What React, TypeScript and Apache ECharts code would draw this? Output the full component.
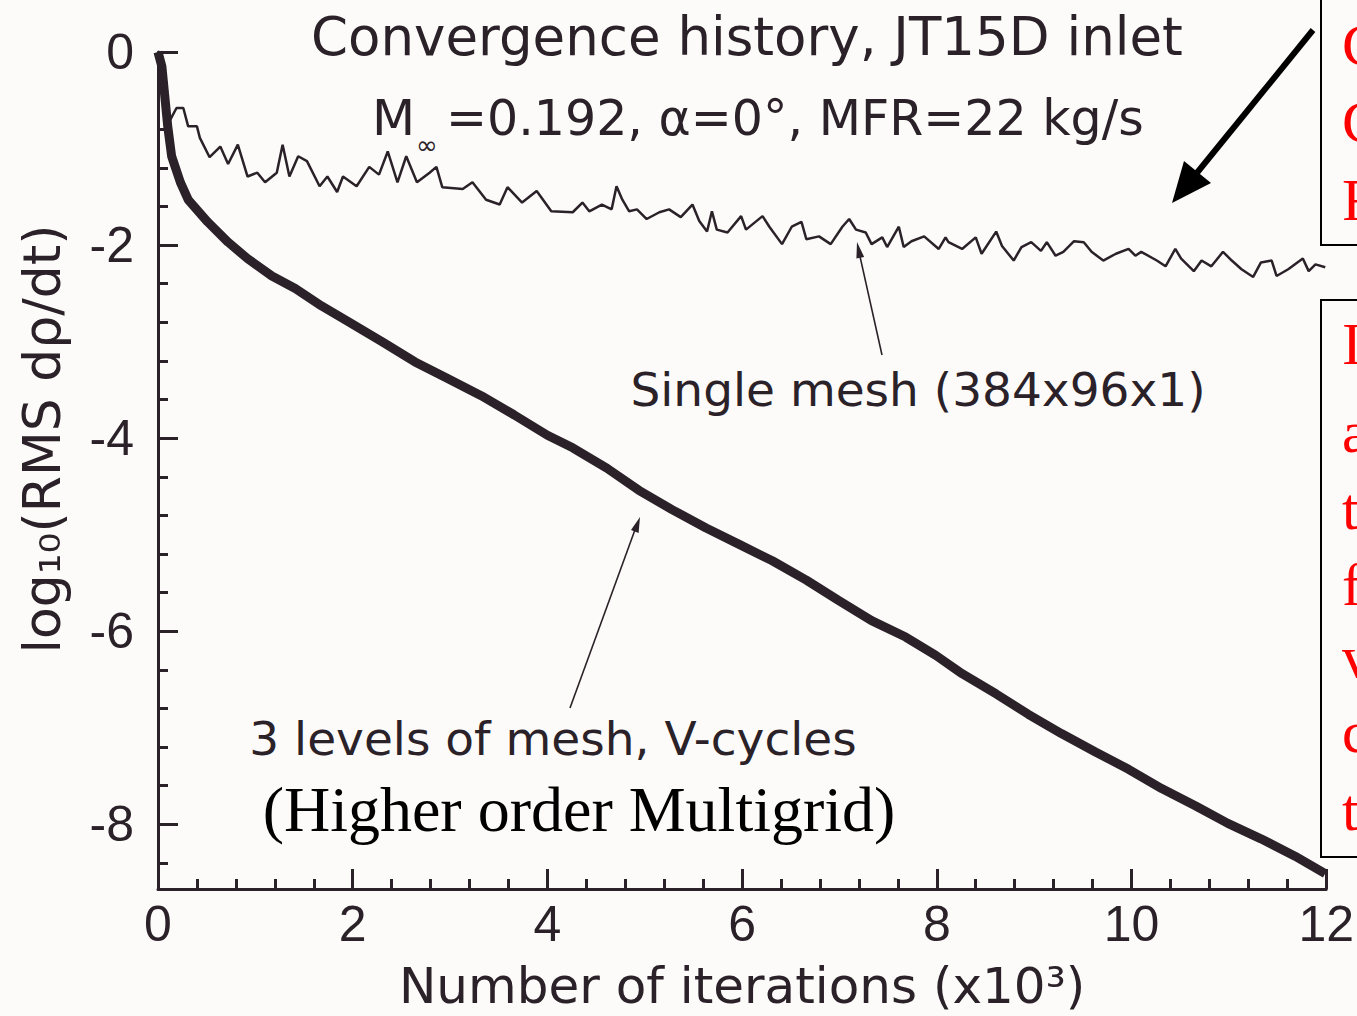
import React, { useEffect, useRef } from "react";
import * as echarts from "echarts";

// Single mesh (384x96x1) convergence history: x in thousands of iterations, y = log10(RMS dρ/dt)
const singleX = [
  0, 0.05, 0.09, 0.19, 0.26, 0.31, 0.4, 0.43, 0.53, 0.64, 0.72, 0.82, 0.92, 1.02, 1.1, 1.22, 1.28, 1.35,
  1.44, 1.53, 1.66, 1.74, 1.84, 1.9, 2.04, 2.17, 2.27, 2.36, 2.46, 2.55, 2.66, 2.79, 2.86, 2.92, 3.13,
  3.23, 3.37, 3.51, 3.59, 3.74, 3.89, 4.04, 4.26, 4.36, 4.43, 4.56, 4.66, 4.71, 4.77, 4.84, 4.92, 5.02,
  5.15, 5.25, 5.37, 5.49, 5.56, 5.64, 5.69, 5.74, 5.85, 5.99, 6.04, 6.21, 6.28, 6.41, 6.51, 6.61, 6.66,
  6.79, 6.91, 7.03, 7.1, 7.17, 7.27, 7.33, 7.44, 7.49, 7.61, 7.66, 7.74, 7.87, 8.02, 8.09, 8.12, 8.26,
  8.4, 8.46, 8.61, 8.67, 8.79, 8.87, 8.97, 9.07, 9.13, 9.22, 9.3, 9.41, 9.51, 9.59, 9.71, 9.84, 9.97,
  10.04, 10.1, 10.26, 10.35, 10.45, 10.51, 10.64, 10.72, 10.82, 10.94, 11.03, 11.13, 11.25, 11.33,
  11.44, 11.49, 11.61, 11.76, 11.82, 11.89, 11.99,
];
const singleY = [
  0, -0.39, -0.77, -0.58, -0.58, -0.77, -0.77, -0.89, -1.09, -0.98, -1.16, -0.96, -1.29, -1.25, -1.35,
  -1.25, -0.96, -1.29, -1.08, -1.13, -1.39, -1.29, -1.45, -1.29, -1.39, -1.19, -1.27, -1.03, -1.35,
  -1.08, -1.35, -1.25, -1.19, -1.4, -1.42, -1.35, -1.53, -1.58, -1.4, -1.56, -1.44, -1.65, -1.66, -1.56,
  -1.65, -1.58, -1.63, -1.39, -1.53, -1.65, -1.63, -1.73, -1.66, -1.63, -1.71, -1.58, -1.75, -1.86,
  -1.65, -1.84, -1.87, -1.7, -1.84, -1.7, -1.81, -1.99, -1.81, -1.76, -1.94, -1.91, -1.99, -1.81, -1.73,
  -1.84, -1.87, -1.99, -1.92, -2.02, -1.81, -2.02, -1.96, -1.91, -2.04, -1.92, -1.97, -2.04, -1.92,
  -2.09, -1.86, -2.01, -2.16, -2.02, -1.97, -2.06, -1.97, -2.11, -2.07, -1.96, -1.97, -2.07, -2.16,
  -2.09, -2.04, -2.11, -2.07, -2.16, -2.22, -2.04, -2.14, -2.27, -2.16, -2.22, -2.07, -2.16, -2.25,
  -2.33, -2.18, -2.16, -2.32, -2.25, -2.14, -2.27, -2.2, -2.23,
];

// 3 levels of mesh, V-cycles (higher order multigrid)
const multiX = [
  0, 0.04, 0.1, 0.14, 0.23, 0.31, 0.51, 0.72, 0.92, 1.17, 1.41, 1.68, 1.95, 2.3, 2.64, 2.97, 3.32, 3.66,
  4.0, 4.26, 4.61, 4.94, 5.28, 5.63, 5.97, 6.31, 6.66, 6.99, 7.33, 7.68, 7.99, 8.26, 8.61, 8.94, 9.28,
  9.63, 9.97, 10.31, 10.66, 10.99, 11.33, 11.68, 11.99,
];
const multiY = [
  0, -0.15, -0.77, -1.08, -1.35, -1.53, -1.76, -1.97, -2.14, -2.32, -2.45, -2.63, -2.79, -3.0, -3.21,
  -3.38, -3.56, -3.76, -3.97, -4.1, -4.31, -4.54, -4.74, -4.93, -5.1, -5.27, -5.47, -5.68, -5.89, -6.06,
  -6.25, -6.44, -6.65, -6.86, -7.06, -7.25, -7.43, -7.63, -7.81, -7.99, -8.15, -8.33, -8.51,
];

const yMajorTicks = [-8, -6, -4, -2, 0];
const yMinorStep = 0.4;
const yMin = -8.67;
const xMax = 12;
const xStep = 2;

const titleLine1 = "Convergence history, JT15D inlet";
const titleM = "M";
const titleSub = "∞";
const titleRest = "=0.192, α=0°, MFR=22 kg/s";
const yName = "log₁₀(RMS dρ/dt)";
const xName = "Number of iterations (x10³)";
const singleLabel = "Single mesh (384x96x1)";
const multiLabel = "3 levels of mesh, V-cycles";
const multiNote = "(Higher order Multigrid)";
const redBox1 = ["C", "C", "F"];
const redBox2 = ["I", "a", "t", "f", "v", "c", "t"];

const INK = "#2b2229";
const SANS = '"DejaVu Sans", sans-serif';
const TICKFONT = '"Liberation Sans", Arial, sans-serif';
const SERIF = '"Liberation Serif", "Times New Roman", serif';

export default function App() {
  const ref = useRef<HTMLDivElement>(null);

  useEffect(() => {
    if (!ref.current) return;
    const chart = echarts.init(ref.current, null, { renderer: "svg" });

    const minorTicks: number[] = [];
    for (let k = 0; k * yMinorStep <= -yMin; k++) {
      minorTicks.push(Math.round(-k * yMinorStep * 100) / 100);
    }

    const singleData = singleX.map((x, i) => [x, singleY[i]]);
    const multiData = multiX.map((x, i) => [x, multiY[i]]);

    const redBase1 = [63, 140, 218];
    const redBase2 = [362, 450, 527, 603, 675, 750, 828];

    const graphic: any[] = [
      {
        type: "text",
        x: 747,
        y: 36,
        style: { text: titleLine1, fill: INK, fontSize: 53, fontFamily: SANS, textAlign: "center", textVerticalAlign: "middle" },
      },
      {
        type: "text",
        x: 372,
        y: 118,
        style: { text: titleM, fill: INK, fontSize: 50, fontFamily: SANS, textAlign: "left", textVerticalAlign: "middle" },
      },
      {
        type: "text",
        x: 416,
        y: 145,
        style: { text: titleSub, fill: INK, fontSize: 26, fontFamily: SANS, textAlign: "left", textVerticalAlign: "middle" },
      },
      {
        type: "text",
        x: 446,
        y: 118,
        style: { text: titleRest, fill: INK, fontSize: 49, fontFamily: SANS, textAlign: "left", textVerticalAlign: "middle" },
      },
      {
        type: "text",
        x: 42,
        y: 439,
        rotation: Math.PI / 2,
        style: { text: yName, fill: INK, fontSize: 52, fontFamily: SANS, textAlign: "center", textVerticalAlign: "middle" },
      },
      {
        type: "text",
        x: 918,
        y: 389,
        style: { text: singleLabel, fill: INK, fontSize: 47, fontFamily: SANS, textAlign: "center", textVerticalAlign: "middle" },
      },
      {
        type: "text",
        x: 553,
        y: 738,
        style: { text: multiLabel, fill: INK, fontSize: 47, fontFamily: SANS, textAlign: "center", textVerticalAlign: "middle" },
      },
      {
        type: "text",
        x: 579,
        y: 809,
        style: { text: multiNote, fill: "#000", fontSize: 64, fontFamily: SERIF, textAlign: "center", textVerticalAlign: "middle" },
      },
      // pointer: single mesh
      { type: "line", shape: { x1: 882, y1: 355, x2: 859, y2: 252 }, style: { stroke: INK, lineWidth: 1.6 } },
      { type: "polygon", shape: { points: [[857, 242], [864.2, 257], [856.4, 258.5]] }, style: { fill: INK } },
      // pointer: multigrid
      { type: "line", shape: { x1: 570, y1: 708, x2: 636, y2: 527 }, style: { stroke: INK, lineWidth: 1.6 } },
      { type: "polygon", shape: { points: [[640, 517], [638.6, 533], [631, 530]] }, style: { fill: INK } },
      // big black arrow
      { type: "line", shape: { x1: 1313, y1: 30, x2: 1196, y2: 174 }, style: { stroke: "#000", lineWidth: 6 } },
      { type: "polygon", shape: { points: [[1172, 203], [1211, 183], [1184, 161]] }, style: { fill: "#000" } },
      // red note boxes (cut off at the right edge, as in the reference)
      { type: "rect", shape: { x: 1321, y: -4, width: 60, height: 249 }, style: { fill: "rgba(0,0,0,0)", stroke: "#000", lineWidth: 2 } },
      { type: "rect", shape: { x: 1321, y: 300, width: 60, height: 557 }, style: { fill: "rgba(0,0,0,0)", stroke: "#000", lineWidth: 2 } },
      ...redBox1.map((t, i) => ({
        type: "text",
        x: 1342,
        y: redBase1[i] - 18,
        style: { text: t, fill: "#ff0000", fontSize: 60, fontFamily: SERIF, textAlign: "left", textVerticalAlign: "middle" },
      })),
      ...redBox2.map((t, i) => ({
        type: "text",
        x: 1342,
        y: redBase2[i] - 18,
        style: { text: t, fill: "#ff0000", fontSize: 60, fontFamily: SERIF, textAlign: "left", textVerticalAlign: "middle" },
      })),
    ];

    const option: any = {
      animation: false,
      backgroundColor: "#fcfbf9",
      grid: { left: 158, right: 29, top: 52, bottom: 123, containLabel: false },
      xAxis: {
        type: "value",
        position: "bottom",
        min: 0,
        max: xMax,
        interval: xStep,
        name: xName,
        nameLocation: "middle",
        nameGap: 72,
        nameTextStyle: { color: INK, fontSize: 50, fontFamily: SANS },
        axisLine: { show: true, onZero: false, lineStyle: { color: INK, width: 3 } },
        axisTick: { show: true, inside: true, length: 20, lineStyle: { color: INK, width: 3 } },
        minorTick: { show: true, splitNumber: 5, length: 10, lineStyle: { color: INK, width: 3 } },
        axisLabel: { color: INK, fontSize: 50, fontFamily: TICKFONT, margin: 10 },
        splitLine: { show: false },
        minorSplitLine: { show: false },
      },
      yAxis: [
        {
          type: "value",
          position: "left",
          min: yMin,
          max: 0,
          axisLine: { show: true, onZero: false, lineStyle: { color: INK, width: 3 } },
          axisTick: { show: true, inside: true, length: 20, customValues: yMajorTicks, lineStyle: { color: INK, width: 3 } },
          axisLabel: { color: INK, fontSize: 50, fontFamily: TICKFONT, margin: 24, customValues: yMajorTicks },
          splitLine: { show: false },
        },
        {
          type: "value",
          position: "left",
          min: yMin,
          max: 0,
          axisLine: { show: false, onZero: false },
          axisTick: { show: true, inside: true, length: 10, customValues: minorTicks, lineStyle: { color: INK, width: 3 } },
          axisLabel: { show: false },
          splitLine: { show: false },
        },
      ],
      series: [
        {
          name: "Single mesh (384x96x1)",
          type: "line",
          yAxisIndex: 0,
          data: singleData,
          symbol: "none",
          lineStyle: { color: INK, width: 2.5 },
          z: 3,
        },
        {
          name: "3 levels of mesh, V-cycles",
          type: "line",
          yAxisIndex: 0,
          data: multiData,
          symbol: "none",
          lineStyle: { color: INK, width: 9 },
          z: 3,
        },
      ],
      graphic,
    };

    chart.setOption(option);
    return () => chart.dispose();
  }, []);

  return (
    <div
      ref={ref}
      style={{ position: "fixed", left: 0, top: 0, width: 1357, height: 1016, background: "#fcfbf9" }}
    />
  );
}
